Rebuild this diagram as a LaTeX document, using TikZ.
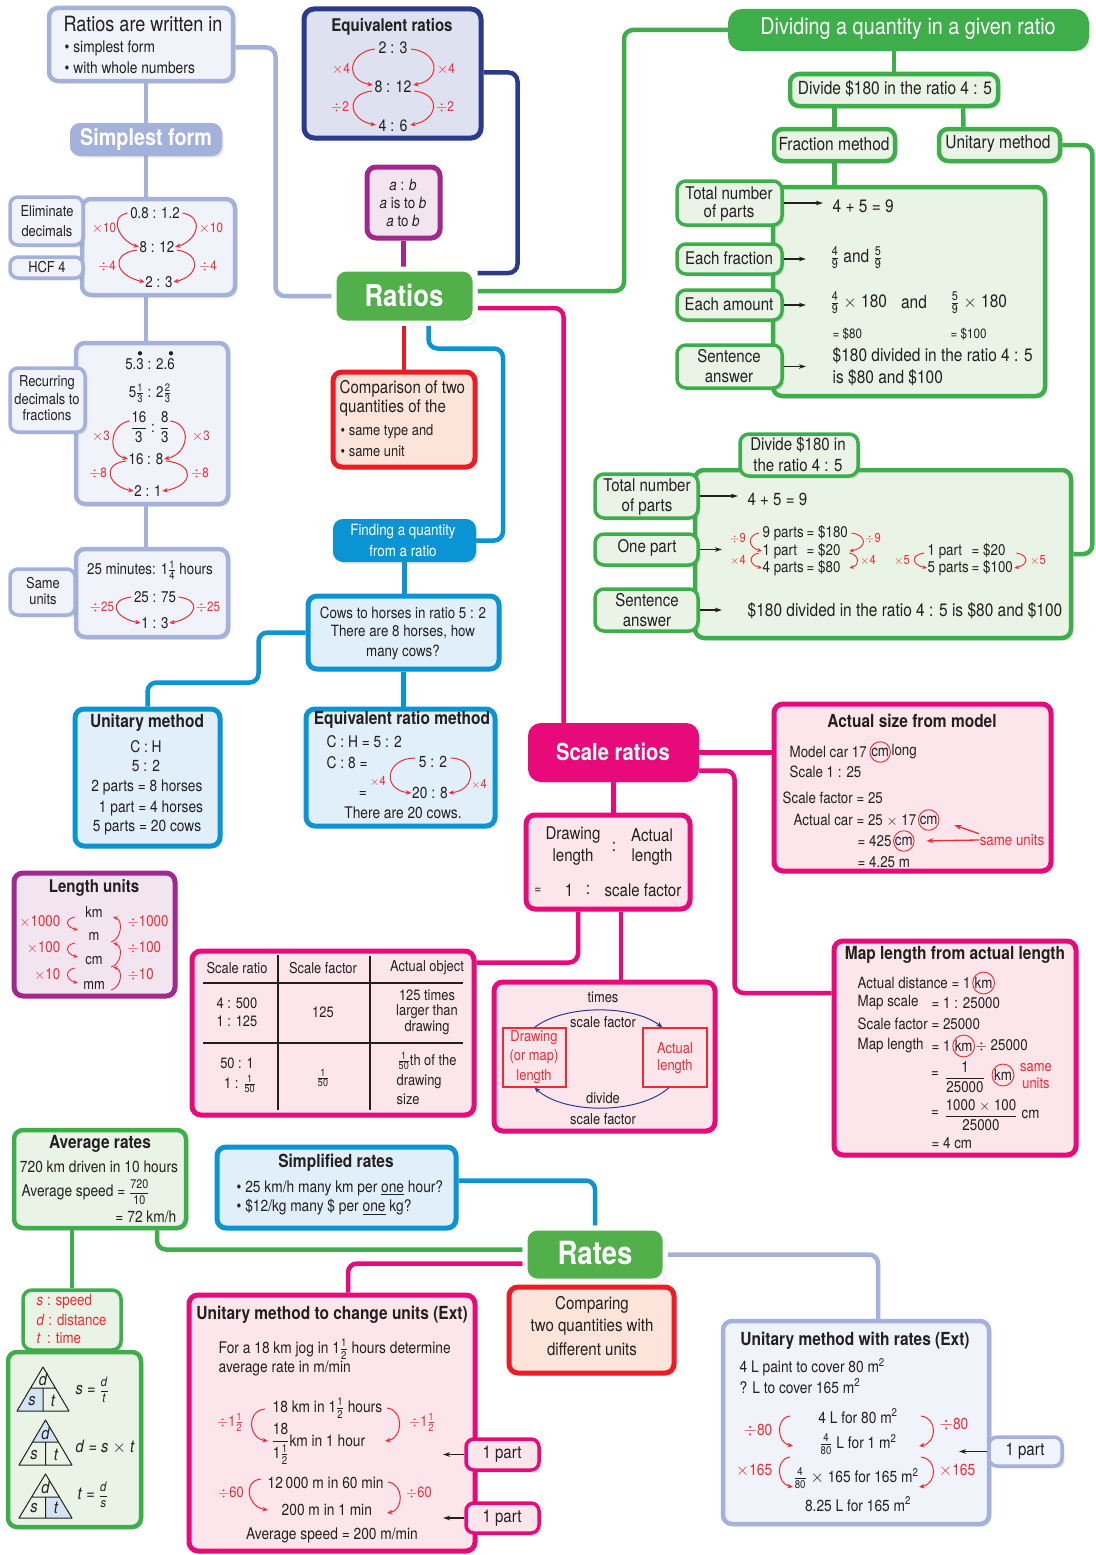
\documentclass[tikz,border=0pt]{standalone}
\usepackage{fontspec}
\setmainfont{TeX Gyre Heros}[FakeStretch=0.86]
\usepackage{amsmath}
\usetikzlibrary{shadows,calc,arrows.meta}
\pgfdeclarelayer{bg}
\pgfsetlayers{bg,main}
\definecolor{ink}{HTML}{231F20}
\definecolor{peri}{HTML}{A4B1DB}
\definecolor{perif}{HTML}{F1F3FA}
\definecolor{navy}{HTML}{2A3A8C}
\definecolor{navyf}{HTML}{DEE1EF}
\definecolor{purp}{HTML}{A1288F}
\definecolor{purpf}{HTML}{F2E5F0}
\definecolor{grn}{HTML}{52B04A}
\definecolor{grnd}{HTML}{3EAE4A}
\definecolor{lgrn}{HTML}{E9F4E6}
\definecolor{redb}{HTML}{ED1C24}
\definecolor{peach}{HTML}{FDE4DA}
\definecolor{blu}{HTML}{0A94D4}
\definecolor{lblu}{HTML}{E1EFFA}
\definecolor{mag}{HTML}{E8097A}
\definecolor{pink}{HTML}{FCE6EC}
\definecolor{redt}{HTML}{EE2B33}
\definecolor{shadeb}{HTML}{D3E4F4}
\newcommand\fsz[1]{\fontsize{#1}{#1}\selectfont}
\newcommand\frc[2]{\ensuremath{\frac{\text{#1}}{\text{#2}}}}
\newcommand\dfrc[2]{\ensuremath{\dfrac{\text{#1}}{\text{#2}}}}
\newcommand\rdot[1]{\ensuremath{\overset{\bullet}{\text{#1}}}}
\newcommand\tm{\ensuremath{\times}}
\newcommand\dv{\ensuremath{\div}}
\newcommand\boxnode[6]{%
  \pgfmathsetlengthmacro\bxw{(#5-#3-4)*1pt}\pgfmathsetlengthmacro\bxh{(#6-#4-4)*1pt}%
  \pgfmathsetmacro\bxx{(#3+#5)/2}\pgfmathsetmacro\bxy{(#4+#6)/2}%
  \node[#2, minimum width=\bxw, minimum height=\bxh, inner sep=0pt] (#1) at (\bxx,\bxy) {};}
\newcommand\tnode[5][]{\node[tx,#1] (#2) at (#3,#4) {#5};}
\newcommand\rarcto[5][rarc]{\draw[#1] (#2) .. controls +(#4) and +(#5) .. (#3);}
\begin{document}
\begin{tikzpicture}[x=1pt,y=-1pt,
  tx/.style={inner sep=0.5pt,text=ink,font=\fsz{15.5}},
  bt/.style={tx,font=\bfseries\fsz{18}},
  rl/.style={tx,text=redt,font=\fsz{13.5}},
  shd/.style={drop shadow={opacity=0.2,shadow xshift=2.5pt,shadow yshift=-2.5pt}},
  pbox/.style={draw=peri,fill=perif,line width=4.5pt,rounded corners=9pt,shd},
  psm/.style={draw=peri,fill=perif,line width=3.5pt,rounded corners=8pt,shd},
  nbox/.style={draw=navy,fill=navyf,line width=5pt,rounded corners=10pt,shd},
  ubox/.style={draw=purp,fill=purpf,line width=5pt,rounded corners=9pt,shd},
  rbox/.style={draw=white,fill=grn,line width=5pt,rounded corners=12pt,shd},
  gbox/.style={draw=grnd,fill=lgrn,line width=4.5pt,rounded corners=9pt,shd},
  gsm/.style={draw=grnd,fill=lgrn,line width=3.5pt,rounded corners=9pt,shd},
  cbox/.style={draw=redb,fill=peach,line width=5pt,rounded corners=9pt,shd},
  bbox/.style={draw=blu,fill=lblu,line width=5pt,rounded corners=9pt,shd},
  fbox/.style={draw=blu,fill=blu,line width=2pt,rounded corners=9pt,shd},
  mbox/.style={draw=mag,fill=pink,line width=5pt,rounded corners=9pt,shd},
  msm/.style={draw=mag,fill=pink,line width=3.5pt,rounded corners=8pt,shd},
  sbox/.style={draw=mag,fill=mag,line width=2pt,rounded corners=12pt,shd},
  sfbox/.style={draw=peri,fill=peri,line width=2pt,rounded corners=9pt,shd},
  dqbox/.style={draw=grnd,fill=grnd,line width=2pt,rounded corners=13pt,shd},
  redsq/.style={draw=redt,line width=1.2pt},
  circ/.style={circle,draw=redt,line width=0.9pt,inner sep=0.3pt,text=ink,font=\fsz{15.5}},
  rarc/.style={draw=redt,line width=1pt,-{Stealth[length=5.5pt,width=4.5pt]}},
  sarc/.style={draw=redt,line width=0.9pt,-{Stealth[length=4.5pt,width=3.8pt]}},
  barc/.style={draw=navy,line width=1pt,-{Stealth[length=6pt,width=5pt]}},
  barr/.style={draw=ink,line width=1.3pt,-{Stealth[length=7pt,width=4.5pt]}},
  rarr/.style={draw=redt,line width=1.3pt,-{Stealth[length=7pt,width=5pt]}},
  tline/.style={draw=ink,line width=1.5pt},
  cn/.style={line width=4.5pt,rounded corners=9pt},
]
\useasboundingbox (0,0) rectangle (1095,1555);

% ---------------- left column ----------------
\boxnode{rw}{pbox}{47}{6}{235}{83}
\tnode[font=\fsz{21}]{rwa}{143}{24}{Ratios are written in}
\tnode[anchor=west,font=\fsz{16}]{rwb}{64}{48}{\textbullet\ simplest form}
\tnode[anchor=west,font=\fsz{16}]{rwc}{64}{68}{\textbullet\ with whole numbers}

\boxnode{sf}{sfbox}{69}{122}{223}{157}
\tnode[font=\bfseries\fsz{23},text=white]{sfa}{146}{139}{Simplest form}

\boxnode{dec}{pbox}{80}{197}{237}{297}
\tnode{da}{155}{213}{0.8 : 1.2}
\tnode{db}{157}{247}{8 : 12}
\tnode{dc}{159}{282}{2 : 3}
\rarcto{$(da.west)+(-2,0)$}{db.west}{-20,4}{-19,-6}
\rarcto{$(da.east)+(2,0)$}{db.east}{23,4}{22,-6}
\rarcto{$(db.west)+(-2,3)$}{dc.west}{-28,4}{-29,-6}
\rarcto{$(db.east)+(2,3)$}{dc.east}{25,4}{26,-6}
\tnode[rl]{dla}{104}{228}{\tm10}
\tnode[rl]{dlb}{211}{228}{\tm10}
\tnode[rl]{dlc}{107}{266}{\dv4}
\tnode[rl]{dld}{208}{266}{\dv4}
\boxnode{el}{psm}{8}{195}{85}{247}
\tnode[font=\fsz{15}]{ela}{47}{211}{Eliminate}
\tnode[font=\fsz{15}]{elb}{47}{231}{decimals}
\boxnode{hcf}{psm}{8}{255}{85}{280}
\tnode[font=\fsz{15}]{hcfa}{47}{267}{HCF 4}

\boxnode{rec}{pbox}{74}{341}{230}{506}
\tnode{ra}{150}{360}{5.\rdot{3} : 2.\rdot{6}}
\tnode{rb}{150}{393}{5\frc{1}{3} : 2\frc{2}{3}}
\tnode{rc}{150}{427}{\dfrc{16}{3} : \dfrc{8}{3}}
\tnode{rd}{146}{459}{16 : 8}
\tnode{re}{148}{491}{2 : 1}
\rarcto{$(rc.west)+(0,-6)$}{rd.west}{-20,3}{-21,-5}
\rarcto{$(rc.east)+(0,-6)$}{rd.east}{22,3}{25,-5}
\rarcto{$(rd.west)+(-2,2)$}{re.west}{-25,3}{-26,-5}
\rarcto{$(rd.east)+(2,2)$}{re.east}{30,3}{31,-5}
\tnode[rl]{rla}{101}{436}{\tm3}
\tnode[rl]{rlb}{201}{436}{\tm3}
\tnode[rl]{rlc}{98}{473}{\dv8}
\tnode[rl]{rld}{200}{473}{\dv8}
\boxnode{recl}{psm}{8}{366}{87}{434}
\tnode[font=\fsz{15}]{recla}{47}{383}{Recurring}
\tnode[font=\fsz{15}]{reclb}{47}{399}{decimals to}
\tnode[font=\fsz{15}]{reclc}{47}{415}{fractions}

\boxnode{su}{pbox}{74}{547}{230}{639}
\tnode{sua}{150}{570}{25 minutes: 1\frc{1}{4} hours}
\tnode{sub}{155}{597}{25 : 75}
\tnode{suc}{155}{623}{1 : 3}
\rarcto{$(sub.west)+(-2,0)$}{suc.west}{-24,3}{-27,-5}
\rarcto{$(sub.east)+(2,0)$}{suc.east}{24,3}{27,-5}
\tnode[rl]{sla}{102}{607}{\dv25}
\tnode[rl]{slb}{208}{607}{\dv25}
\boxnode{sul}{psm}{8}{567}{77}{617}
\tnode[font=\fsz{15}]{sula}{43}{583}{Same}
\tnode[font=\fsz{15}]{sulb}{43}{599}{units}

% ---------------- equivalent ratios ----------------
\boxnode{eq}{nbox}{302}{7}{483}{140}
\tnode[bt,font=\bfseries\fsz{17.5}]{eqt}{392}{27}{Equivalent ratios}
\tnode[font=\fsz{16.5}]{eqa}{393}{48}{2 : 3}
\tnode[font=\fsz{16.5}]{eqb}{393}{87}{8 : 12}
\tnode[font=\fsz{16.5}]{eqc}{393}{126}{4 : 6}
\rarcto{$(eqa.west)+(-3,1)$}{$(eqb.west)+(-1,-2)$}{-26,3}{-29,-5}
\rarcto{$(eqa.east)+(3,1)$}{$(eqb.east)+(1,-2)$}{28,3}{29,-5}
\rarcto{$(eqb.west)+(-2,4)$}{$(eqc.west)+(-2,-1)$}{-27,3}{-27,-5}
\rarcto{$(eqb.east)+(2,4)$}{$(eqc.east)+(2,-1)$}{28,3}{28,-5}
\tnode[rl,font=\fsz{14}]{eqla}{341}{69}{\tm4}
\tnode[rl,font=\fsz{14}]{eqlb}{446}{69}{\tm4}
\tnode[rl,font=\fsz{14}]{eqlc}{340}{107}{\dv2}
\tnode[rl,font=\fsz{14}]{eqld}{445}{107}{\dv2}

\boxnode{ab}{ubox}{365}{165}{442}{240}
\tnode{aba}{403}{185}{\textit{a} : \textit{b}}
\tnode{abb}{403}{203}{\textit{a} is to \textit{b}}
\tnode{abc}{403}{221}{\textit{a} to \textit{b}}

\boxnode{ratios}{rbox}{332}{267}{477}{325}
\tnode[font=\bfseries\fsz{30},text=white]{rat}{404}{295}{Ratios}

\boxnode{cmp}{cbox}{331}{370}{477}{469}
\tnode[anchor=west,font=\fsz{17.5}]{cma}{339}{389}{Comparison of two}
\tnode[anchor=west,font=\fsz{17.5}]{cmb}{339}{408}{quantities of the}
\tnode[anchor=west,font=\fsz{15}]{cmc}{340}{432}{\textbullet\ same type and}
\tnode[anchor=west,font=\fsz{15}]{cmd}{340}{451}{\textbullet\ same unit}

\boxnode{fq}{fbox}{332}{518}{477}{563}
\tnode[text=white]{fqa}{403}{532}{Finding a quantity}
\tnode[text=white]{fqb}{403}{551}{from a ratio}

\boxnode{cows}{bbox}{306}{594}{501}{671}
\tnode{cowa}{403}{613}{Cows to horses in ratio 5 : 2}
\tnode{cowb}{403}{632}{There are 8 horses, how}
\tnode{cowc}{403}{652}{many cows?}

\boxnode{um}{bbox}{73}{707}{222}{848}
\tnode[bt]{uma}{147}{723}{Unitary method}
\tnode[font=\fsz{16}]{umb}{146}{747}{C : H}
\tnode[font=\fsz{16}]{umc}{146}{766}{5 : 2}
\tnode[font=\fsz{16}]{umd}{147}{787}{2 parts = 8 horses}
\tnode[font=\fsz{16}]{ume}{151}{808}{1 part = 4 horses}
\tnode[font=\fsz{16}]{umf}{147}{828}{5 parts = 20 cows}

\boxnode{erm}{bbox}{304}{707}{497}{828}
\tnode[bt]{erma}{402}{720}{Equivalent ratio method}
\tnode[anchor=west,font=\fsz{16}]{ermb}{326}{742}{C : H = 5 : 2}
\tnode[anchor=west,font=\fsz{16}]{ermc}{326}{763}{C : 8 =}
\tnode[font=\fsz{16}]{ermd}{433}{762}{5 : 2}
\tnode[font=\fsz{16}]{erme}{363}{794}{=}
\tnode[font=\fsz{16}]{ermf}{430}{793}{20 : 8}
\tnode[font=\fsz{16}]{ermg}{403}{813}{There are 20 cows.}
\rarcto{$(ermd.west)+(-3,-4)$}{ermf.west}{-30,0}{-30,-3}
\rarcto{$(ermd.east)+(3,-4)$}{ermf.east}{26,0}{29,-3}
\tnode[rl,font=\fsz{13}]{ermh}{378}{781}{\tm4}
\tnode[rl,font=\fsz{13}]{ermi}{479}{784}{\tm4}

% ---------------- dividing ----------------
\boxnode{dq}{dqbox}{727}{8}{1090}{52}
\tnode[font=\fsz{23},text=white]{dqa}{908}{29}{Dividing a quantity in a given ratio}
\boxnode{div}{gbox}{788}{72}{1000}{108}
\tnode[font=\fsz{18}]{diva}{895}{89}{Divide \$180 in the ratio 4 : 5}
\boxnode{fm}{gbox}{772}{127}{897}{163}
\tnode[font=\fsz{18}]{fma}{834}{144}{Fraction method}
\boxnode{umr}{gbox}{937}{127}{1062}{163}
\tnode[font=\fsz{18}]{umra}{998}{144}{Unitary method}

\boxnode{fb}{gbox}{771}{185}{1047}{398}
\boxnode{tna}{gsm}{675}{179}{784}{227}
\tnode[font=\fsz{17.5}]{tnaa}{729}{193}{Total number}
\tnode[font=\fsz{17.5}]{tnab}{729}{213}{of parts}
\boxnode{efr}{gsm}{675}{242}{784}{276}
\tnode[font=\fsz{17.5}]{efra}{729}{258}{Each fraction}
\boxnode{eam}{gsm}{675}{288}{784}{322}
\tnode[font=\fsz{17.5}]{eama}{729}{304}{Each amount}
\boxnode{saa}{gsm}{675}{343}{784}{390}
\tnode[font=\fsz{17.5}]{saaa}{729}{356}{Sentence}
\tnode[font=\fsz{17.5}]{saab}{729}{378}{answer}
\coordinate (ka) at (823,0);
\coordinate (kb) at (806,0);
\draw[barr] (tna.east) -- (tna.east -| ka);
\draw[barr] (efr.east) -- (efr.east -| kb);
\draw[barr] (eam.east) -- (eam.east -| kb);
\draw[barr] (saa.east) -- (saa.east -| kb);
\tnode[anchor=west,font=\fsz{18}]{fba}{832}{206}{4 + 5 = 9}
\tnode[anchor=west,font=\fsz{18}]{fbb}{830}{258}{\frc{4}{9} and \frc{5}{9}}
\tnode[anchor=west,font=\fsz{18}]{fbc}{830}{303}{\frc{4}{9} \tm\ 180}
\tnode[font=\fsz{18}]{fbd}{914}{302}{and}
\tnode[anchor=west,font=\fsz{18}]{fbe}{950}{303}{\frc{5}{9} \tm\ 180}
\tnode[anchor=west,font=\fsz{13.5}]{fbf}{832}{334}{= \$80}
\tnode[anchor=west,font=\fsz{13.5}]{fbg}{950}{334}{= \$100}
\tnode[anchor=west,font=\fsz{18}]{fbh}{832}{356}{\$180 divided in the ratio 4 : 5}
\tnode[anchor=west,font=\fsz{18}]{fbi}{832}{378}{is \$80 and \$100}

\boxnode{lb}{gbox}{693}{468}{1073}{640}
\boxnode{dl}{gsm}{738}{432}{860}{478}
\tnode[font=\fsz{17.5}]{dla2}{798}{445}{Divide \$180 in}
\tnode[font=\fsz{17.5}]{dlb2}{798}{465}{the ratio 4 : 5}
\boxnode{tnb}{gsm}{593}{472}{700}{520}
\tnode[font=\fsz{17.5}]{tnba}{647}{485}{Total number}
\tnode[font=\fsz{17.5}]{tnbb}{647}{507}{of parts}
\boxnode{op}{gsm}{593}{532}{700}{567}
\tnode[font=\fsz{17.5}]{opa}{647}{548}{One part}
\boxnode{sab}{gsm}{593}{587}{700}{633}
\tnode[font=\fsz{17.5}]{saba}{647}{600}{Sentence}
\tnode[font=\fsz{17.5}]{sabb}{647}{622}{answer}
\coordinate (kc) at (738,0);
\coordinate (kd) at (722,0);
\draw[barr] (tnb.east) -- (tnb.east -| kc);
\draw[barr] (op.east) -- (op.east -| kd);
\draw[barr] (sab.east) -- (sab.east -| kd);
\tnode[anchor=west,font=\fsz{17.5}]{ga}{747}{499}{4 + 5 = 9}
\tnode[anchor=west]{gb}{762}{533}{\makebox[86pt][l]{\makebox[44pt][l]{9 parts}= \$180}}
\tnode[anchor=west]{gc}{762}{551}{\makebox[86pt][l]{\makebox[44pt][l]{1 part}= \$20}}
\tnode[anchor=west]{gd}{762}{568}{\makebox[86pt][l]{\makebox[44pt][l]{4 parts}= \$80}}
\tnode[anchor=west]{ge}{927}{551}{\makebox[86pt][l]{\makebox[44pt][l]{1 part}= \$20}}
\tnode[anchor=west]{gf}{927}{568}{\makebox[86pt][l]{\makebox[44pt][l]{5 parts}= \$100}}
\rarcto[sarc]{$(gb.west)+(-3,0)$}{gc.west}{-12,2}{-14,-3}
\rarcto[sarc]{$(gc.west)+(-3,2)$}{gd.west}{-11,2}{-13,-3}
\rarcto[sarc]{$(gb.east)+(2,0)$}{gc.east}{16,2}{18,-3}
\rarcto[sarc]{$(gc.east)+(0,2)$}{gd.east}{10,2}{11,-3}
\rarcto[sarc]{$(ge.west)+(-3,2)$}{gf.west}{-14,2}{-15,-3}
\rarcto[sarc]{$(ge.east)+(2,2)$}{gf.east}{13,2}{14,-3}
\tnode[rl,font=\fsz{13}]{gla}{738}{538}{\dv9}
\tnode[rl,font=\fsz{13}]{glb}{738}{560}{\tm4}
\tnode[rl,font=\fsz{13}]{glc}{873}{538}{\dv9}
\tnode[rl,font=\fsz{13}]{gld}{868}{560}{\tm4}
\tnode[rl,font=\fsz{13}]{gle}{902}{560}{\tm5}
\tnode[rl,font=\fsz{13}]{glf}{1038}{560}{\tm5}
\tnode[anchor=west,font=\fsz{18}]{gg}{747}{611}{\$180 divided in the ratio 4 : 5 is \$80 and \$100}

% ---------------- scale ratios ----------------
\boxnode{sr}{sbox}{527}{722}{700}{783}
\tnode[font=\bfseries\fsz{23.5},text=white]{sra}{613}{752}{Scale ratios}

\boxnode{as}{mbox}{772}{702}{1053}{873}
\tnode[bt]{asa}{912}{721}{Actual size from model}
\tnode[anchor=west]{asb}{789}{752}{Model car 17}
\node[circ,anchor=west] (asbc) at ([xshift=2pt]asb.east) {cm};
\node[tx,anchor=west] (asbd) at (asbc.east) {long};
\tnode[anchor=west]{asc}{789}{772}{Scale 1 : 25}
\tnode[anchor=west]{asd}{782}{798}{Scale factor = 25}
\tnode[anchor=west]{ase}{793}{820}{Actual car = 25 \tm\ 17}
\node[circ,anchor=west] (asec) at ([xshift=1pt]ase.east) {cm};
\tnode[anchor=west]{asf}{857}{841}{= 425}
\node[circ,anchor=west] (asfc) at ([xshift=1pt]asf.east) {cm};
\tnode[anchor=west]{asg}{857}{862}{= 4.25 m}
\tnode[text=redt]{asu}{1012}{840}{same units}
\draw[rarr,shorten >=16pt] (asu.north west) -- (asec.east);
\draw[rarr,shorten >=12pt] (asu.west) -- (asfc.east);

\boxnode{dlw}{mbox}{524}{813}{692}{911}
\tnode[font=\fsz{17.5}]{dlwa}{573}{835}{Drawing}
\tnode[font=\fsz{17.5}]{dlwb}{573}{857}{length}
\tnode[font=\fsz{17.5}]{dlwc}{614}{847}{:}
\tnode[font=\fsz{17.5}]{dlwd}{652}{835}{Actual}
\tnode[font=\fsz{17.5}]{dlwe}{652}{857}{length}
\tnode[font=\fsz{14}]{dlwf}{538}{891}{=}
\tnode[font=\fsz{17.5}]{dlwg}{569}{890}{1}
\tnode[font=\fsz{17.5}]{dlwh}{588}{890}{:}
\tnode[font=\fsz{17.5}]{dlwi}{643}{890}{scale factor}

\boxnode{tbl}{mbox}{190}{949}{476}{1117}
\draw[tline] (278,955) -- (278,1110);
\draw[tline] (370,956) -- (370,1110);
\draw[tline] (203,983) -- (463,983);
\draw[tline] (203,1043) -- (463,1043);
\tnode[font=\fsz{15}]{tba}{237}{968}{Scale ratio}
\tnode[font=\fsz{15}]{tbb}{323}{968}{Scale factor}
\tnode[font=\fsz{15}]{tbc}{427}{968}{Actual object}
\tnode[font=\fsz{15}]{tbd}{237}{1003}{4 : 500}
\tnode[font=\fsz{15}]{tbe}{237}{1021}{1 : 125}
\tnode[font=\fsz{15}]{tbf}{323}{1012}{125}
\tnode[font=\fsz{15}]{tbg}{427}{995}{125 times}
\tnode[font=\fsz{15}]{tbh}{427}{1012}{larger than}
\tnode[font=\fsz{15}]{tbi}{427}{1028}{drawing}
\tnode[font=\fsz{15}]{tbj}{237}{1063}{50 : 1}
\tnode[font=\fsz{15}]{tbk}{240}{1084}{1 : \frc{1}{50}}
\tnode[font=\fsz{15}]{tbl2}{323}{1078}{\frc{1}{50}}
\tnode[font=\fsz{15}]{tbm}{427}{1061}{\frc{1}{50}th of the}
\tnode[anchor=west,font=\fsz{15}]{tbn}{396}{1082}{drawing}
\tnode[anchor=west,font=\fsz{15}]{tbo}{396}{1099}{size}

\boxnode{tb}{mbox}{492}{980}{717}{1133}
\tnode[font=\fsz{15}]{tma}{603}{997}{times}
\tnode[font=\fsz{15}]{tmb}{603}{1022}{scale factor}
\boxnode{rba}{redsq}{501}{1026}{568}{1089}
\tnode[font=\fsz{15},text=redt]{rbaa}{534}{1038}{Drawing}
\tnode[font=\fsz{15},text=redt]{rbab}{534}{1057}{(or map)}
\tnode[font=\fsz{15},text=redt]{rbac}{534}{1077}{length}
\boxnode{rbb}{redsq}{641}{1026}{709}{1089}
\tnode[font=\fsz{15},text=redt]{rbba}{675}{1048}{Actual}
\tnode[font=\fsz{15},text=redt]{rbbb}{675}{1067}{length}
\draw[barc] (rba.north) .. controls +(30,-23) and +(-30,-23) .. ([xshift=20pt]rbb.north west);
\draw[barc] ([xshift=-6pt]rbb.south) .. controls +(-30,27) and +(30,27) .. (rba.south);
\tnode[font=\fsz{15}]{tmc}{603}{1098}{divide}
\tnode[font=\fsz{15}]{tmd}{603}{1119}{scale factor}

\boxnode{ml}{mbox}{832}{939}{1078}{1157}
\tnode[bt]{mla}{955}{955}{Map length from actual length}
\tnode[anchor=west]{mlb}{857}{983}{Actual distance = 1}
\node[circ,anchor=west] (mlbc) at ([xshift=1pt]mlb.east) {km};
\tnode[anchor=west]{mlc}{857}{1003}{Map scale}
\tnode[anchor=west]{mlc2}{931}{1003}{= 1 : 25000}
\tnode[anchor=west]{mld}{857}{1024}{Scale factor = 25000}
\tnode[anchor=west]{mle}{857}{1046}{Map length}
\tnode[anchor=west]{mle2}{931}{1046}{= 1}
\node[circ,anchor=west] (mlec) at ([xshift=1pt]mle2.east) {km};
\node[tx,anchor=west] (mle3) at (mlec.east) {\dv\ 25000};
\tnode{mlf}{935}{1075}{=}
\tnode{mlf2}{965}{1077}{\dfrc{1}{25000}}
\node[circ] (mlfc) at (1003,1075) {km};
\tnode[text=redt,font=\fsz{15}]{mlg}{1036}{1068}{same}
\tnode[text=redt,font=\fsz{15}]{mlh}{1036}{1083}{units}
\tnode{mli}{935}{1114}{=}
\tnode{mli2}{981}{1115}{\dfrc{1000 \tm\ 100}{25000}}
\tnode[anchor=west]{mli3}{1021}{1114}{cm}
\tnode[anchor=west]{mlj}{931}{1143}{= 4 cm}

% ---------------- length units ----------------
\boxnode{lu}{ubox}{12}{871}{177}{998}
\tnode[bt,font=\bfseries\fsz{17.5}]{lua}{94}{888}{Length units}
\tnode[font=\fsz{15}]{lk}{94}{912}{km}
\tnode[font=\fsz{15}]{lm}{94}{936}{m}
\tnode[font=\fsz{15}]{lc}{94}{961}{cm}
\tnode[font=\fsz{15}]{lmm}{94}{985}{mm}
\rarcto[sarc]{$(lk)+(-19,5)$}{$(lk)+(-16,18)$}{-11,2}{-12,-3}
\rarcto[sarc]{$(lk)+(-19,31)$}{$(lk)+(-16,45)$}{-11,2}{-12,-3}
\rarcto[sarc]{$(lk)+(-19,56)$}{$(lk)+(-16,71)$}{-11,2}{-12,-3}
\rarcto[sarc]{$(lk)+(17,30)$}{$(lk)+(19,5)$}{10,-2}{11,3}
\rarcto[sarc]{$(lk)+(17,55)$}{$(lk)+(19,31)$}{10,-2}{11,3}
\rarcto[sarc]{$(lk)+(17,78)$}{$(lk)+(19,55)$}{10,-2}{11,3}
\tnode[rl,font=\fsz{15.5},anchor=east]{lla}{61}{922}{\tm1000}
\tnode[rl,font=\fsz{15.5},anchor=east]{llb}{61}{948}{\tm100}
\tnode[rl,font=\fsz{15.5},anchor=east]{llc}{61}{975}{\tm10}
\tnode[rl,font=\fsz{15.5},anchor=west]{lld}{127}{922}{\dv1000}
\tnode[rl,font=\fsz{15.5},anchor=west]{lle}{127}{948}{\dv100}
\tnode[rl,font=\fsz{15.5},anchor=west]{llf}{127}{975}{\dv10}

% ---------------- rates ----------------
\boxnode{ar}{gbox}{12}{1128}{188}{1230}
\tnode[bt]{ara}{100}{1144}{Average rates}
\tnode[font=\fsz{16}]{arb}{99}{1167}{720 km driven in 10 hours}
\tnode[anchor=west,font=\fsz{16}]{arx}{21}{1192}{Average speed = {\fsz{12.5}\dfrc{720}{10}}}
\tnode[anchor=east,font=\fsz{16}]{ard}{177}{1217}{= 72 km/h}

\boxnode{sr2}{bbox}{215}{1145}{458}{1230}
\tnode[bt]{sra2}{336}{1163}{Simplified rates}
\tnode[anchor=west,font=\fsz{16}]{srb2}{236}{1188}{\textbullet\ 25 km/h many km per \underline{one} hour?}
\tnode[anchor=west,font=\fsz{16}]{src2}{236}{1207}{\textbullet\ \$12/kg many \$ per \underline{one} kg?}

\boxnode{cmpb}{cbox}{507}{1285}{676}{1375}
\tnode[font=\fsz{17.5}]{cmpa}{592}{1305}{Comparing}
\tnode[font=\fsz{17.5}]{cmpb2}{592}{1327}{two quantities with}
\tnode[font=\fsz{17.5}]{cmpc}{592}{1349}{different units}
\boxnode{rates}{rbox}{523}{1226}{667}{1283}
\tnode[font=\bfseries\fsz{32},text=white]{rta}{595}{1253}{Rates}

\boxnode{tri}{gbox}{6}{1350}{143}{1529}
\boxnode{sp}{gsm}{21}{1288}{123}{1352}
\tnode[anchor=west,text=redt]{spa}{36}{1302}{\textit{s} : speed}
\tnode[anchor=west,text=redt]{spb}{36}{1320}{\textit{d} : distance}
\tnode[anchor=west,text=redt]{spc}{36}{1338}{\textit{t}\,\ : time}
\fill[shadeb] (30.6,1388) -- (43,1388) -- (43,1411) -- (17,1411) -- cycle;
\draw[ink,line width=1pt,line join=round] (43,1367) -- (69,1411) -- (17,1411) -- cycle (30.6,1388) -- (55.4,1388) (43,1388) -- (43,1411);
\fill[shadeb] (45.5,1420) -- (58.5,1442) -- (32.5,1442) -- cycle;
\draw[ink,line width=1pt,line join=round] (45.5,1420) -- (72,1465) -- (19,1465) -- cycle (32.5,1442) -- (58.5,1442) (45.5,1442) -- (45.5,1465);
\fill[shadeb] (45.5,1497) -- (59.4,1497) -- (72,1518) -- (45.5,1518) -- cycle;
\draw[ink,line width=1pt,line join=round] (45.5,1474) -- (72,1518) -- (19,1518) -- cycle (31.6,1497) -- (59.4,1497) (45.5,1497) -- (45.5,1518);
\tnode[font=\itshape\fsz{17}]{tra}{43}{1379}{d}
\tnode[font=\itshape\fsz{17}]{trb}{32}{1401}{s}
\tnode[font=\itshape\fsz{17}]{trc}{53}{1401}{t}
\tnode[font=\itshape\fsz{17}]{trd}{45.5}{1433}{d}
\tnode[font=\itshape\fsz{17}]{tre}{34}{1455}{s}
\tnode[font=\itshape\fsz{17}]{trf}{56}{1455}{t}
\tnode[font=\itshape\fsz{17}]{trg}{45.5}{1487}{d}
\tnode[font=\itshape\fsz{17}]{trh}{34}{1508}{s}
\tnode[font=\itshape\fsz{17}]{tri2}{56}{1508}{t}
\tnode[anchor=west,font=\fsz{17}]{fra}{75}{1390}{\textit{s} = {\fsz{13}\dfrc{\textit{d}}{\textit{t}}}}
\tnode[anchor=west,font=\fsz{17}]{frb}{75}{1447}{\textit{d} = \textit{s} \tm\ \textit{t}}
\tnode[anchor=west,font=\fsz{17}]{frcn}{77}{1495}{\textit{t} = {\fsz{13}\dfrc{\textit{d}}{\textit{s}}}}

\boxnode{uc}{mbox}{187}{1293}{477}{1553}
\tnode[bt]{uca}{332}{1315}{Unitary method to change units (Ext)}
\tnode[anchor=west,font=\fsz{16}]{ucb}{218}{1349}{For a 18 km jog in 1\frc{1}{2} hours determine}
\tnode[anchor=west,font=\fsz{16}]{ucc}{218}{1368}{average rate in m/min}
\tnode[anchor=west,font=\fsz{16}]{ucd}{272}{1408}{18 km in 1\frc{1}{2} hours}
\tnode[anchor=base west,font=\fsz{16}]{uce}{271}{1446}{\ensuremath{\dfrac{\text{18}}{\text{1}\tfrac{\text{1}}{\text{2}}}}km in 1 hour}
\tnode[anchor=west,font=\fsz{16}]{ucf}{267}{1483}{12\,000 m in 60 min}
\tnode[anchor=west,font=\fsz{16}]{ucg}{281}{1510}{200 m in 1 min}
\tnode[font=\fsz{16}]{uch}{332}{1535}{Average speed = 200 m/min}
\rarcto{$(ucd.west)+(-7,1)$}{$(ucd.west)+(-4,33)$}{-19,2}{-20,-3}
\rarcto{$(ucd.west)+(115,0)$}{$(ucd.west)+(113,33)$}{17,2}{18,-3}
\rarcto{$(ucf.west)+(-6,-4)$}{$(ucg.west)+(-13,0)$}{-19,2}{-20,-3}
\rarcto{$(ucf.west)+(121,-1)$}{$(ucg.west)+(106,3)$}{16,2}{17,-3}
\tnode[rl,font=\fsz{15}]{ucla}{230}{1422}{\dv1\frc{1}{2}}
\tnode[rl,font=\fsz{15}]{uclb}{422}{1422}{\dv1\frc{1}{2}}
\tnode[rl,font=\fsz{15}]{uclc}{231}{1493}{\dv60}
\tnode[rl,font=\fsz{15}]{ucld}{419}{1493}{\dv60}
\boxnode{pa}{msm}{464}{1437}{541}{1472}
\tnode[font=\fsz{17.5}]{paa}{502}{1454}{1 part}
\boxnode{pb}{msm}{464}{1501}{541}{1535}
\tnode[font=\fsz{17.5}]{pba}{502}{1518}{1 part}
\coordinate (ke) at (443,0);
\draw[barr] (pa.west) -- (pa.west -| ke);
\draw[barr] (pb.west) -- (pb.west -| ke);

\boxnode{uw}{pbox}{721}{1319}{991}{1526}
\tnode[bt]{uwa}{855}{1341}{Unitary method with rates (Ext)}
\tnode[anchor=west,font=\fsz{16}]{uwb}{739}{1367}{4 L paint to cover 80 m\textsuperscript{2}}
\tnode[anchor=west,font=\fsz{16}]{uwc}{739}{1386}{? L to cover 165 m\textsuperscript{2}}
\tnode[font=\fsz{16}]{uwd}{858}{1416}{4 L for 80 m\textsuperscript{2}}
\tnode[font=\fsz{16}]{uwe}{858}{1444}{\frc{4}{80} L for 1 m\textsuperscript{2}}
\tnode[font=\fsz{16}]{uwf}{856}{1478}{\frc{4}{80} \tm\ 165 for 165 m\textsuperscript{2}}
\tnode[font=\fsz{16}]{uwg}{858}{1504}{8.25 L for 165 m\textsuperscript{2}}
\rarcto{$(uwd)+(-68,0)$}{$(uwd)+(-65,30)$}{-15,2}{-16,-3}
\rarcto{$(uwd)+(63,0)$}{$(uwd)+(61,30)$}{17,2}{18,-3}
\rarcto{$(uwd)+(-68,41)$}{$(uwd)+(-65,71)$}{-15,2}{-16,-3}
\rarcto{$(uwd)+(63,41)$}{$(uwd)+(61,71)$}{17,2}{18,-3}
\tnode[rl,font=\fsz{16}]{uwla}{758}{1431}{\dv80}
\tnode[rl,font=\fsz{16}]{uwlb}{954}{1425}{\dv80}
\tnode[rl,font=\fsz{16}]{uwlc}{754}{1471}{\tm165}
\tnode[rl,font=\fsz{16}]{uwld}{957}{1471}{\tm165}
\boxnode{pc}{psm}{987}{1435}{1064}{1468}
\tnode[font=\fsz{17.5}]{pca}{1025}{1451}{1 part}
\coordinate (kf) at (959,0);
\draw[barr] (pc.west) -- (pc.west -| kf);

% ---------------- connectors ----------------
\begin{pgfonlayer}{bg}
\fill[white] (0,0) rectangle (1095,1555);
\draw[cn,peri] ($(rw.east)+(0,3)$) -| ($(ratios.west)+(-56,0)$) -- (ratios.west);
\draw[cn,peri] (rw.south -| sf.north) -- (su.north -| sf.north);
\draw[cn,navy] ($(eq.east)+(0,-1)$) -| ($(ratios.east)+(40,-23)$) -- ($(ratios.east)+(0,-23)$);
\draw[cn,purp] (ab.south) -- (ab.south |- ratios.north);
\draw[cn,grnd] ($(ratios.east)+(0,-5)$) -| ($(dq.west)+(-104,0)$) -- (dq.west);
\draw[cn,mag] ($(ratios.east)+(0,12)$) -| ($(sr.north)+(-50,0)$);
\draw[cn,redb] (cmp.north |- ratios.south) -- (cmp.north);
\draw[cn,blu] ($(ratios.south)+(24,0)$) |- ($(fq.east)+(27,-192)$) |- (fq.east);
\draw[cn,blu] (fq.south) -- (fq.south |- cows.north);
\draw[cn,blu] (cows.west) -| ($(um.north)+(111,-24)$) -| (um.north);
\draw[cn,blu] (cows.south) -- (cows.south |- erm.north);
\draw[cn,grnd] (div.north |- dq.south) -- (div.north);
\draw[cn,grnd] (fm.north |- div.south) -- (fm.north);
\draw[cn,grnd] ($(div.south)+(69,0)$) -- ($(umr.north)+(-36,0)$);
\draw[cn,grnd] (fm.south) -- (fm.south |- fb.north);
\draw[cn,grnd] (umr.east) -| ($(lb.east)+(19,0)$) -- (lb.east);
\draw[cn,mag] (sr.south) -- (sr.south |- dlw.north);
\draw[cn,mag] (sr.east) -- (sr.east -| as.west);
\draw[cn,mag] ($(sr.east)+(0,18)$) -| ($(ml.west)+(-97,-55)$) -- ($(ml.west)+(0,-55)$);
\draw[cn,mag] ($(dlw.south)+(-30,0)$) |- ($(tbl.north east)+(0,14)$);
\draw[cn,mag] ($(dlw.south)+(13,0)$) -- ($(tb.north)+(16.5,0)$);
\draw[cn,grnd] (sp.north |- ar.south) -- (sp.north);
\draw[cn,grnd] ($(ar.south)+(57,0)$) |- ($(rates.west)+(0,-5)$);
\draw[cn,blu] ($(sr2.east)+(0,-7)$) -| (rates.north);
\draw[cn,mag] ($(rates.west)+(0,9)$) -| ($(uc.north)+(16,0)$);
\draw[cn,peri] (rates.east) -| ($(uw.north)+(22,0)$);
\end{pgfonlayer}
\end{tikzpicture}
\end{document}
